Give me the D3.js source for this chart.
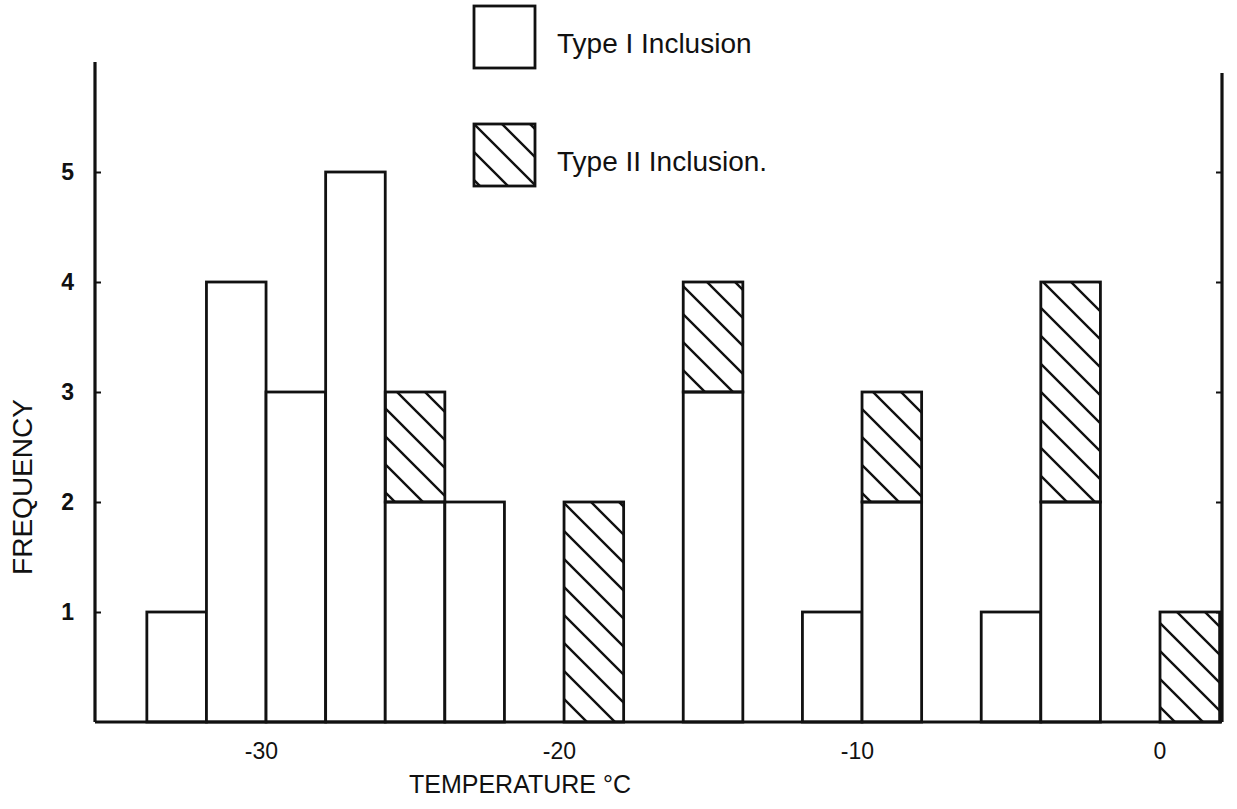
<!DOCTYPE html>
<html>
<head>
<meta charset="utf-8">
<script src="https://cdn.jsdelivr.net/npm/d3@7"></script>
<style>
  body { margin: 0; background: #fff; }
  svg text { font-family: "Liberation Sans", Arial, Helvetica, sans-serif; fill: #111; }
</style>
</head>
<body>
<svg id="chart" width="1237" height="809"></svg>
<script>
// bin left edges (deg C), each bin is 2 degrees wide
var binStart = [-34, -32, -30, -28, -26, -24, -22, -20, -18, -16, -14, -12, -10, -8, -6, -4, -2, 0];
var binWidth = 2;
var typeOne = [1, 4, 3, 5, 2, 2, 0, 0, 0, 3, 0, 1, 2, 0, 1, 2, 0, 0];
var typeTwo = [0, 0, 0, 0, 1, 0, 0, 2, 0, 1, 0, 0, 1, 0, 0, 2, 0, 1];
var xTicks = [-30, -20, -10, 0];
var yTicks = [1, 2, 3, 4, 5];
var legendLabels = ["Type I Inclusion", "Type II Inclusion."];

var svg = d3.select("#chart"),
	margin = {top: 62, right: 15, bottom: 87, left: 95},
	width = +svg.attr("width") - margin.left - margin.right,
	height = +svg.attr("height") - margin.top - margin.bottom;

var defs = svg.append("defs");
var hatch = defs.append("pattern")
	.attr("id", "hatch")
	.attr("patternUnits", "userSpaceOnUse")
	.attr("width", 28).attr("height", 28);
hatch.append("path")
	.attr("d", "M0,0L28,28M-14,14L14,42M14,-14L42,14")
	.attr("stroke", "#111").attr("stroke-width", 2.4).attr("fill", "none");

var g = svg.append("g").attr("transform", "translate(" + margin.left + "," + margin.top + ")");

var x = d3.scaleLinear().domain([-35.74, 2.08]).range([0, width]);
var y = d3.scaleLinear().domain([0, 6]).range([height, 0]);

// stacked: type I at the bottom, type II on top
var rows = binStart.map(function(b, i) {
	return {start: b, one: typeOne[i], two: typeTwo[i]};
});
var stacked = d3.stack().keys(["one", "two"])(rows);

var series = g.selectAll(".series")
	.data(stacked).enter().append("g")
	.attr("class", "series")
	.attr("fill", function(d, i) { return i == 0 ? "#fff" : "url(#hatch)"; });

series.selectAll("rect")
	.data(function(d) { return d.filter(function(v) { return v[1] - v[0] > 0; }); })
	.enter().append("rect")
	.attr("x", function(d) { return x(d.data.start); })
	.attr("width", function(d) { return x(d.data.start + binWidth) - x(d.data.start); })
	.attr("y", function(d) { return y(d[1]); })
	.attr("height", function(d) { return y(d[0]) - y(d[1]); })
	.attr("stroke", "#111")
	.attr("stroke-width", 2.8);

// baseline
g.append("line")
	.attr("x1", 0).attr("x2", width)
	.attr("y1", y(0)).attr("y2", y(0))
	.attr("stroke", "#111").attr("stroke-width", 2.8);

// left axis, inward ticks
var yAxisL = g.append("g")
	.call(d3.axisRight(y).tickValues(yTicks).tickSize(6).tickFormat(""));
yAxisL.select(".domain").attr("d", "M0," + y(6) + "V" + y(0)).attr("stroke", "#111").attr("stroke-width", 3.2);
yAxisL.selectAll(".tick line").attr("stroke", "#111").attr("stroke-width", 2);

g.selectAll(".ylabel")
	.data(yTicks).enter().append("text")
	.attr("class", "ylabel")
	.attr("x", -21)
	.attr("y", function(d) { return y(d); })
	.attr("dy", "0.36em")
	.attr("text-anchor", "end")
	.style("font-size", "23px")
	.style("font-weight", "bold")
	.text(function(d) { return d; });

// right axis, inward ticks
var yAxisR = g.append("g")
	.attr("transform", "translate(" + width + ",0)")
	.call(d3.axisLeft(y).tickValues(yTicks).tickSize(6).tickFormat(""));
yAxisR.select(".domain").attr("d", "M0," + y(5.9) + "V" + y(0)).attr("stroke", "#111").attr("stroke-width", 3.2);
yAxisR.selectAll(".tick line").attr("stroke", "#111").attr("stroke-width", 2);

// x tick labels (no tick marks in the original)
g.selectAll(".xlabel")
	.data(xTicks).enter().append("text")
	.attr("class", "xlabel")
	.attr("x", function(d) { return x(d); })
	.attr("y", y(0) + 37)
	.attr("dx", function(d) { return d < 0 ? "-0.2em" : 0; })
	.attr("text-anchor", "middle")
	.style("font-size", "23px")
	.text(function(d) { return d < 0 ? "-" + Math.abs(d) : d; });

// axis titles
svg.append("text")
	.attr("transform", "translate(32,487) rotate(-90)")
	.attr("text-anchor", "middle")
	.style("font-size", "28px")
	.text("FREQUENCY");

svg.append("text")
	.attr("x", 520)
	.attr("y", 793)
	.attr("text-anchor", "middle")
	.style("font-size", "25px")
	.text("TEMPERATURE °C");

// legend
var legend = svg.selectAll(".legend")
	.data(legendLabels).enter().append("g")
	.attr("class", "legend")
	.attr("transform", function(d, i) { return "translate(474," + (6 + i * 118) + ")"; });

legend.append("rect")
	.attr("width", 61).attr("height", 62)
	.attr("fill", function(d, i) { return i == 0 ? "#fff" : "url(#hatch)"; })
	.attr("stroke", "#111").attr("stroke-width", 2.8);

legend.append("text")
	.attr("x", 83)
	.attr("y", 47)
	.style("font-size", "28px")
	.text(function(d) { return d; });
</script>
</body>
</html>
